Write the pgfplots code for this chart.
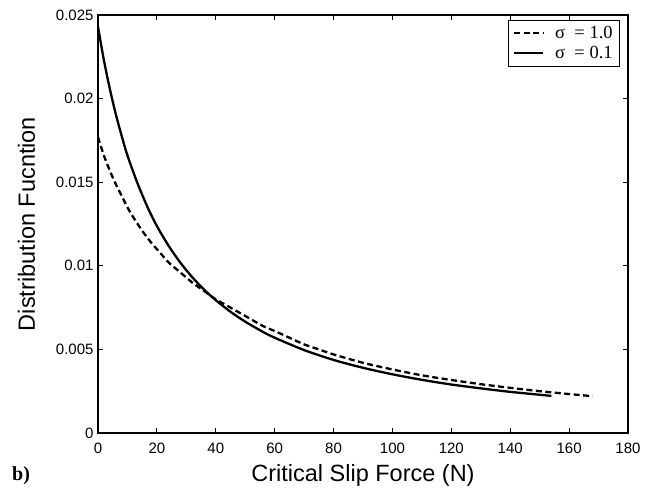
\documentclass[border=0pt]{standalone}
\usepackage{fontspec}
\setmainfont{Liberation Sans}
\newfontfamily\serif{Liberation Serif}
\usepackage{pgfplots}
\pgfplotsset{compat=1.18}
\pgfplotstableread{
x y
0 0.0177
2 0.0166
4 0.0157
6 0.0149
8 0.0142
10 0.0135
12 0.0129
15 0.0121
18 0.0114
21 0.0108
24 0.0102
28 0.0096
32 0.0090
36 0.0085
40 0.0080
45 0.0075
50 0.0070
56 0.0064
60 0.0061
65 0.0057
70 0.0053
75 0.0050
80 0.0047
90 0.0042
100 0.0038
110 0.00345
120 0.00317
130 0.00292
140 0.0027
150 0.0025
160 0.00233
168 0.0022
}\dashed
\pgfplotstableread{
x y
0 0.0243
2 0.0223
4 0.0206
6 0.0191
8 0.0178
10 0.0166
13.5 0.0149
17 0.01344
20 0.01238
24 0.01119
28 0.01018
32 0.00932
36 0.00858
40 0.00794
45 0.00725
50 0.00666
56 0.00605
60 0.0057
70 0.00496
80 0.00437
90 0.0039
100 0.00351
110 0.00318
120 0.0029
130 0.00267
140 0.00246
154 0.00222
}\solid
\begin{document}
\begin{tikzpicture}
\begin{axis}[
  scale only axis, width=530pt, height=418pt,
  xmin=0, xmax=180, ymin=0, ymax=0.025,
  xtick={0,20,40,60,80,100,120,140,160,180},
  xticklabels={0,20,40,60,80,100,120,140,160,180},
  ytick={0,0.005,0.01,0.015,0.02,0.025},
  yticklabels={0,0.005,0.01,0.015,0.02,0.025},
  scaled y ticks=false,
  tick align=inside,
  major tick length=5pt,
  axis line style={line width=1.4pt},
  every tick/.style={line width=1.1pt, black},
  ticklabel style={font=\fontsize{15}{17}\selectfont},
  xticklabel style={yshift=-7pt},
  yticklabel style={xshift=-1pt},
  xlabel={Critical Slip Force (N)},
  ylabel={Distribution Fucntion},
  label style={font=\fontsize{23.5}{26}\selectfont},
  xlabel style={at={(axis description cs:0.5,-0.1172)}, anchor=base},
  ylabel style={at={(axis description cs:-0.1189,0.5)}, anchor=base},
  legend cell align=left,
  legend image code/.code={\draw[#1, line width=2.2pt] (0pt,0pt) -- (29pt,0pt); \path (38pt,0pt);},
  legend style={at={(rel axis cs:0.985,0.988)}, anchor=north east,
    draw=black, line width=0.8pt, inner xsep=5pt, inner ysep=4pt, row sep=2pt,
    font=\serif\fontsize{18.5}{20}\selectfont},
]
\addplot[black, line width=2.3pt, dash pattern=on 6pt off 3.5pt, smooth] table[x=x,y=y] {\dashed};
\addlegendentry{σ\ \ = 1.0}
\addplot[black, line width=2.3pt, smooth] table[x=x,y=y] {\solid};
\addlegendentry{σ\ \ = 0.1}
\coordinate (bl) at (rel axis cs:-0.1849,-0.1364);
\coordinate (tr) at (rel axis cs:1.0642,1.0359);
\coordinate (bpos) at (rel axis cs:-0.1623,-0.1148);
\end{axis}
\node[anchor=base west, inner sep=0pt, font=\serif\bfseries\fontsize{20}{22}\selectfont] at (bpos) {b)};
\pgfresetboundingbox
\path (bl) rectangle (tr);
\end{tikzpicture}
\end{document}
